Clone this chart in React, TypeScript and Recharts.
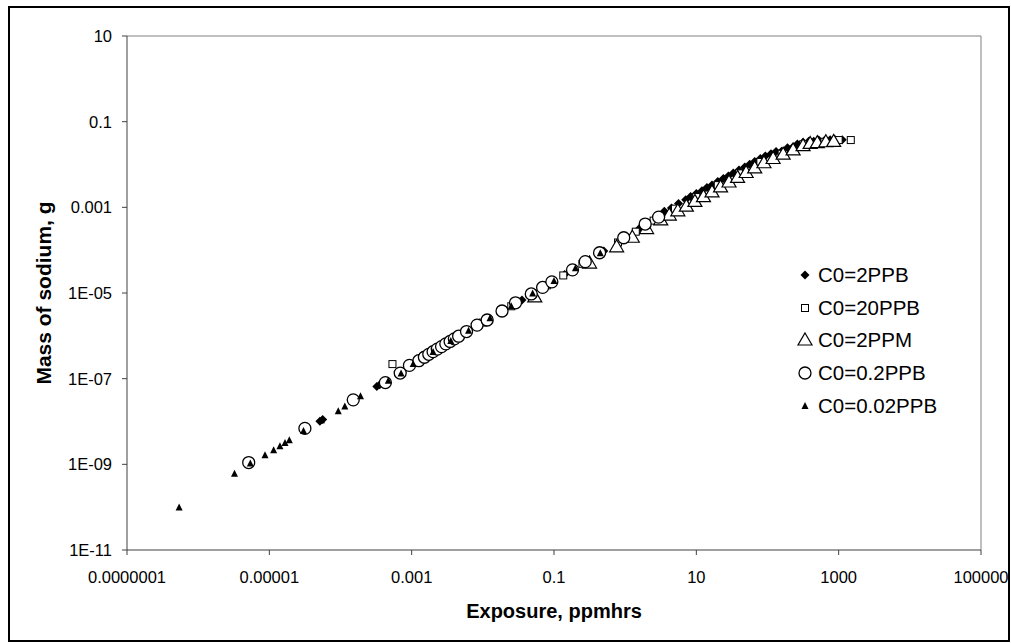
import React from 'react';
import { ScatterChart, Scatter, XAxis, YAxis, ReferenceLine, Label } from 'recharts';

// axis ticks (log scales, one tick every two decades)
const xTicks = [1e-7, 1e-5, 1e-3, 0.1, 10, 1000, 1e5];
const xTickLabels = ['0.0000001', '0.00001', '0.001', '0.1', '10', '1000', '100000'];
const yTicks = [1e-11, 1e-9, 1e-7, 1e-5, 1e-3, 0.1, 10];
const yTickLabels = ['1E-11', '1E-09', '1E-07', '1E-05', '0.001', '0.1', '10'];

const seriesNames = ['C0=2PPB', 'C0=20PPB', 'C0=2PPM', 'C0=0.2PPB', 'C0=0.02PPB'];

// C0=2PPB (filled diamonds)
const ppb2X = [5.13e-5, 5.62e-5, 3.24e-4, 3.55e-4, 1.26e-3, 2.51e-3, 4.47e-3, 6.31e-3, 8.91e-3, 0.0178, 0.0355, 0.0708, 0.141, 0.282, 0.501, 0.891, 1.585, 2.82, 3.55, 4.47, 5.62, 7.08, 8.32, 10, 12.0, 14.1, 16.6, 20, 24, 28.2, 33.1, 39.8, 47.9, 56.2, 66.1, 79.4, 93.3, 112, 132, 158, 191, 224, 263, 316, 380, 447, 525, 631, 759, 891, 1122];
const ppb2Y = [1.02e-8, 1.12e-8, 6.6e-8, 7.2e-8, 2.6e-7, 5.4e-7, 9.3e-7, 1.32e-6, 1.82e-6, 3.55e-6, 6.9e-6, 1.35e-5, 2.69e-5, 5.4e-5, 9.5e-5, 1.7e-4, 3.2e-4, 6.0e-4, 8.1e-4, 9.7e-4, 1.23e-3, 1.5e-3, 1.78e-3, 2.1e-3, 2.45e-3, 2.9e-3, 3.3e-3, 4.0e-3, 4.7e-3, 5.4e-3, 6.3e-3, 7.4e-3, 8.7e-3, 0.0101, 0.0117, 0.0138, 0.0158, 0.0178, 0.02, 0.0204, 0.0245, 0.0251, 0.03, 0.0331, 0.0347, 0.0347, 0.0372, 0.0363, 0.038, 0.038, 0.038];

// C0=20PPB (open squares)
const ppb20X = [5.37e-4, 1.58e-3, 3.98e-3, 0.01, 0.0251, 0.0501, 0.0794, 0.135, 0.251, 0.447, 0.794, 1.41, 2.51, 5.01, 10, 20, 39.8, 79.4, 158, 316, 631, 1000, 1480];
const ppb20Y = [2.19e-7, 3.3e-7, 8.5e-7, 2.04e-6, 4.9e-6, 9.8e-6, 1.51e-5, 2.57e-5, 4.8e-5, 8.5e-5, 1.51e-4, 2.7e-4, 4.9e-4, 9.3e-4, 1.74e-3, 3.3e-3, 6.2e-3, 0.0115, 0.0178, 0.0295, 0.0339, 0.0372, 0.0372];

// C0=2PPM (open triangles)
const ppm2X = [0.0537, 0.316, 0.759, 1.26, 2.0, 3.16, 4.17, 5.5, 7.24, 9.55, 12.6, 16.6, 21.9, 28.8, 38, 50.1, 66.1, 89.1, 120, 166, 229, 316, 398, 501, 661, 851];
const ppm2Y = [8.1e-6, 5.0e-5, 1.2e-4, 2.0e-4, 3.2e-4, 5.1e-4, 6.6e-4, 8.3e-4, 1.07e-3, 1.38e-3, 1.78e-3, 2.29e-3, 3.0e-3, 3.9e-3, 5.0e-3, 6.5e-3, 8.3e-3, 0.011, 0.0138, 0.0174, 0.0219, 0.0275, 0.031, 0.0324, 0.034, 0.0347];

// C0=0.2PPB (open circles)
const ppb02X = [5.13e-6, 3.16e-5, 1.51e-4, 4.27e-4, 6.9e-4, 9.3e-4, 1.26e-3, 1.51e-3, 1.74e-3, 2.0e-3, 2.29e-3, 2.63e-3, 3.02e-3, 3.47e-3, 3.98e-3, 4.57e-3, 5.9e-3, 8.3e-3, 0.0115, 0.0186, 0.0288, 0.0479, 0.0692, 0.0933, 0.182, 0.275, 0.437, 0.955, 1.91, 2.95];
const ppb02Y = [1.1e-9, 6.9e-9, 3.2e-8, 8.1e-8, 1.35e-7, 2.04e-7, 2.63e-7, 3.16e-7, 3.7e-7, 4.27e-7, 4.9e-7, 5.6e-7, 6.5e-7, 7.4e-7, 8.5e-7, 9.8e-7, 1.26e-6, 1.78e-6, 2.34e-6, 3.8e-6, 5.9e-6, 9.5e-6, 1.35e-5, 1.82e-5, 3.47e-5, 5.4e-5, 8.7e-5, 1.95e-4, 4.07e-4, 5.9e-4];

// C0=0.02PPB (small filled triangles)
const ppb002X = [5.4e-7, 3.24e-6, 5.4e-6, 8.7e-6, 1.15e-5, 1.41e-5, 1.66e-5, 1.91e-5, 3.02e-5, 5.4e-5, 9.3e-5, 1.15e-4, 1.91e-4, 4.7e-4, 7.1e-4, 1.05e-3, 2.0e-3, 3.55e-3, 6.3e-3, 0.0126, 0.0251, 0.0501, 0.1, 0.2, 0.447];
const ppb002Y = [9.8e-11, 6.0e-10, 1.05e-9, 1.62e-9, 2.14e-9, 2.63e-9, 3.16e-9, 3.63e-9, 6.0e-9, 1.07e-8, 1.74e-8, 2.24e-8, 3.9e-8, 8.9e-8, 1.32e-7, 2.2e-7, 4.2e-7, 7.6e-7, 1.32e-6, 2.57e-6, 4.9e-6, 9.8e-6, 1.9e-5, 3.8e-5, 8.5e-5];

const toPoints = (xs: number[], ys: number[]) => xs.map((x, i) => ({ x, y: ys[i] }));

const FONT = '"Liberation Sans", Arial, sans-serif';

const Diamond = ({ cx, cy }: any) => (
  <path d={`M${cx},${cy - 4.5}L${cx + 4.5},${cy}L${cx},${cy + 4.5}L${cx - 4.5},${cy}Z`} fill="#000" />
);
const Square = ({ cx, cy }: any) => (
  <rect x={cx - 3.5} y={cy - 3.5} width={7} height={7} fill="#fff" stroke="#000" strokeWidth={1} />
);
const BigTriangle = ({ cx, cy }: any) => (
  <path d={`M${cx},${cy - 7}L${cx + 7},${cy + 5}L${cx - 7},${cy + 5}Z`} fill="#fff" stroke="#000" strokeWidth={1.2} />
);
const Circle = ({ cx, cy }: any) => (
  <circle cx={cx} cy={cy} r={6} fill="#fff" stroke="#000" strokeWidth={1.3} />
);
const SmallTriangle = ({ cx, cy }: any) => (
  <path d={`M${cx},${cy - 4}L${cx + 3.5},${cy + 3}L${cx - 3.5},${cy + 3}Z`} fill="#000" />
);

const shapes = [Diamond, Square, BigTriangle, Circle, SmallTriangle];

const LegendBox = () => (
  <div style={{ position: 'absolute', left: 795, top: 259, fontFamily: FONT, fontSize: 20.5, color: '#000' }}>
    {seriesNames.map((name, i) => {
      const Shape = shapes[i];
      return (
        <div key={name} style={{ display: 'flex', alignItems: 'center', height: 32.6 }}>
          <svg width={20} height={20} style={{ marginRight: 3 }}>
            <Shape cx={10} cy={10} />
          </svg>
          <span>{name}</span>
        </div>
      );
    })}
  </div>
);

export default function App() {
  const tickStyle = { fontFamily: FONT, fontSize: 16.5, fill: '#000' };
  return (
    <div style={{ position: 'absolute', left: 0, top: 0, width: 1011, height: 643, background: '#fff' }}>
      <div style={{ position: 'absolute', left: 8, top: 6, width: 998, height: 632, border: '2px solid #000' }} />
      <ScatterChart width={1011} height={643} margin={{ top: 36, right: 30, bottom: 63, left: 27 }}>
        <XAxis
          type="number"
          dataKey="x"
          scale="log"
          domain={[1e-7, 1e5]}
          ticks={xTicks}
          allowDataOverflow
          height={30}
          tick={tickStyle}
          tickSize={5}
          tickMargin={16}
          stroke="#404040"
          tickFormatter={(v: number) => xTickLabels[xTicks.indexOf(v)] ?? String(v)}
        >
          <Label
            content={() => (
              <text x={554} y={618} textAnchor="middle" fontFamily={FONT} fontWeight="bold" fontSize={20}>
                Exposure, ppmhrs
              </text>
            )}
          />
        </XAxis>
        <YAxis
          type="number"
          dataKey="y"
          scale="log"
          domain={[1e-11, 10]}
          ticks={yTicks}
          allowDataOverflow
          width={100}
          tick={tickStyle}
          tickSize={5}
          tickMargin={10}
          stroke="#404040"
          tickFormatter={(v: number) => yTickLabels[yTicks.indexOf(v)] ?? String(v)}
        >
          <Label
            content={() => (
              <text x={51} y={293} textAnchor="middle" transform="rotate(-90 51 293)" fontFamily={FONT} fontWeight="bold" fontSize={21}>
                Mass of sodium, g
              </text>
            )}
          />
        </YAxis>
        <ReferenceLine y={10} stroke="#808080" strokeWidth={1} />
        <ReferenceLine x={1e5} stroke="#808080" strokeWidth={1} />
        <Scatter name={seriesNames[0]} data={toPoints(ppb2X, ppb2Y)} shape={Diamond} isAnimationActive={false} />
        <Scatter name={seriesNames[1]} data={toPoints(ppb20X, ppb20Y)} shape={Square} isAnimationActive={false} />
        <Scatter name={seriesNames[2]} data={toPoints(ppm2X, ppm2Y)} shape={BigTriangle} isAnimationActive={false} />
        <Scatter name={seriesNames[3]} data={toPoints(ppb02X, ppb02Y)} shape={Circle} isAnimationActive={false} />
        <Scatter name={seriesNames[4]} data={toPoints(ppb002X, ppb002Y)} shape={SmallTriangle} isAnimationActive={false} />
      </ScatterChart>
      <LegendBox />
    </div>
  );
}
